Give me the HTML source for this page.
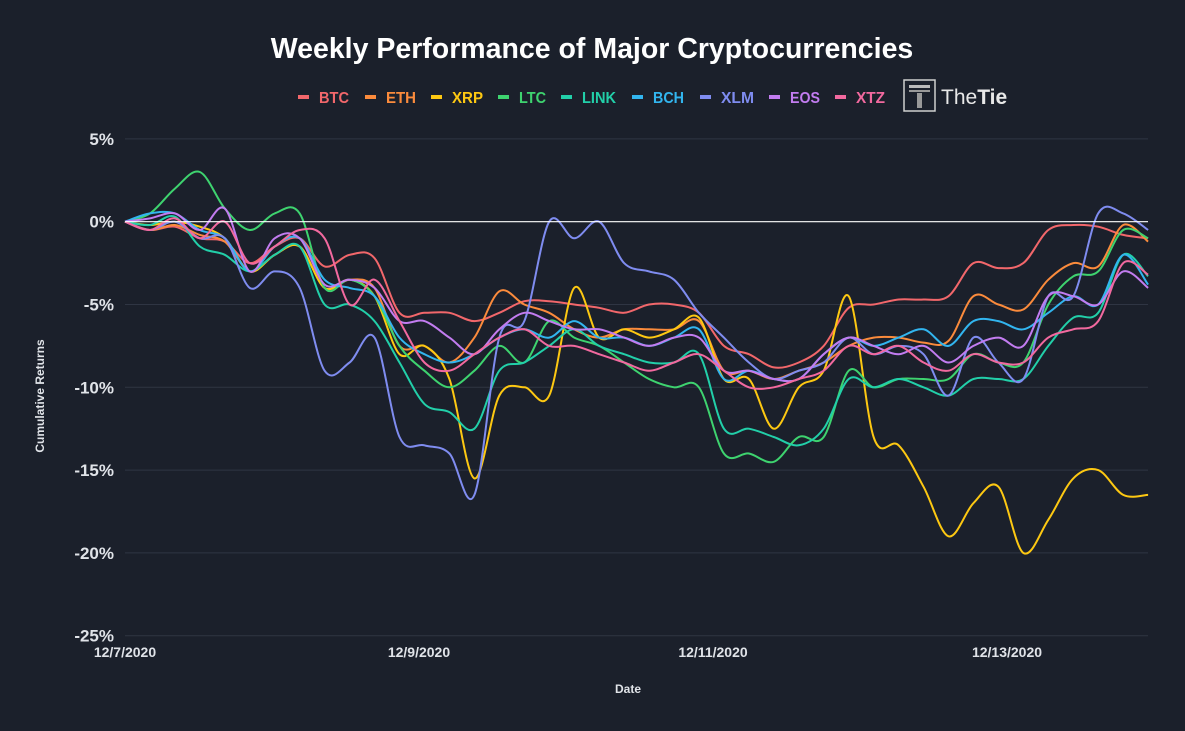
<!DOCTYPE html>
<html><head><meta charset="utf-8"><style>
html,body{margin:0;padding:0;background:#1b202b;}
svg{display:block;font-family:"Liberation Sans",sans-serif;}
</style></head><body>
<svg id="chart" width="1185" height="731" viewBox="0 0 1185 731">
<rect width="1185" height="731" fill="#1b202b"/>
<text x="592" y="58" text-anchor="middle" font-size="28.5" font-weight="bold" fill="#ffffff">Weekly Performance of Major Cryptocurrencies</text>
<g id="legend"></g>
<g>
<rect x="904" y="80" width="31" height="31" fill="none" stroke="#d0d0d0" stroke-width="1.5"/>
<rect x="909" y="85" width="21" height="3" fill="#bbb"/><rect x="909" y="90" width="21" height="2" fill="#999"/>
<rect x="917" y="93" width="5" height="15" fill="#999"/>
<text x="941" y="104" font-size="21" fill="#e8e8e8">The<tspan font-weight="bold">Tie</tspan></text>
</g>
<g id="grid"></g><g id="series"></g><g id="axes"></g>
<text x="628" y="693" text-anchor="middle" font-size="12" font-weight="bold" fill="#e0e3e8">Date</text>
<text transform="translate(44,396) rotate(-90)" text-anchor="middle" font-size="12" font-weight="bold" fill="#e0e3e8">Cumulative Returns</text>
</svg>
<script>
const names=["BTC","ETH","XRP","LTC","LINK","BCH","XLM","EOS","XTZ"];
const colors=["#f2676b","#fb8b3c","#fdc812","#3ed36f","#22cfa9","#32b5ef","#7f8cf0","#c27cf0","#f2699f"];
const yTicks=[5,0,-5,-10,-15,-20,-25];
const xTickLabels=["12/7/2020","12/9/2020","12/11/2020","12/13/2020"];
const xTickDays=[0,2,4,6];
const btc=[0,-0.5,-0.3,-1,-1.2,-2.5,-1.5,-1,-2.7,-2,-2.2,-5.5,-5.5,-5.5,-6,-5.5,-4.8,-4.8,-5,-5.2,-5.5,-5,-5,-5.5,-7.5,-8,-8.8,-8.5,-7.5,-5.2,-5,-4.7,-4.7,-4.5,-2.5,-2.8,-2.5,-0.5,-0.2,-0.3,-0.8,-1];
const eth=[0,-0.5,-0.2,-0.8,-1.2,-3,-2,-1.5,-4,-3.5,-4,-7.5,-7.5,-8.5,-7,-4.2,-5,-5.5,-6.5,-7,-6.5,-6.5,-6.5,-6,-9,-9,-9.5,-9,-8.5,-7.5,-7,-7,-7.3,-7.2,-4.5,-5,-5.3,-3.5,-2.5,-2.7,-0.2,-1.2];
const xrp=[0,-0.2,0,-0.3,-1,-3,-2,-1.5,-4,-3.5,-4.5,-8,-7.5,-9.5,-15.5,-10.5,-10,-10.5,-4,-7,-6.5,-7,-6.5,-5.8,-9.5,-9.5,-12.5,-10,-9,-4.5,-13,-13.5,-16,-19,-17,-16,-20,-18,-15.5,-15,-16.5,-16.5];
const ltc=[0,0.5,2,3,0.8,-0.5,0.5,0.5,-4,-3.5,-4.5,-7.5,-9,-10,-9,-7.5,-8.5,-6,-7,-7.5,-8.5,-9.5,-10,-10,-14,-14,-14.5,-13,-13,-9,-10,-9.5,-9.5,-9.5,-8,-8.5,-8.5,-5,-3.3,-3,-0.5,-1];
const link=[0,-0.2,0.3,-1.5,-2,-3,-2,-1.5,-5,-5,-6,-8.5,-11,-11.5,-12.5,-9,-8.5,-7.5,-6.5,-7.5,-8,-8.5,-8.5,-8,-12.5,-12.5,-13,-13.5,-12.5,-9.5,-10,-9.5,-10,-10.5,-9.5,-9.5,-9.5,-7.5,-5.8,-5.5,-2,-3.3];
const bch=[0,0.5,0.5,-0.5,-1,-3,-1.5,-1,-3.5,-4,-4.5,-7,-8,-8.5,-8,-7,-6.5,-7,-6,-7,-7,-7.5,-7,-6.5,-9.5,-9,-9.5,-9.5,-8,-7,-7.5,-7,-6.5,-7.5,-6,-6,-6.5,-5.5,-4.5,-5,-2,-3.8];
const xlm=[0,-0.5,0,-1,-1,-4,-3,-4,-9,-8.5,-7,-13,-13.5,-14,-16.5,-7,-6,0,-1,0,-2.5,-3,-3.5,-5.5,-7,-8.5,-9.5,-9,-8.5,-7,-8,-7.5,-8,-10.5,-7,-8.5,-9.5,-4.5,-4.5,0.5,0.5,-0.5];
const eos=[0,0.2,0.5,-0.5,0.8,-3,-1,-1,-3.8,-3.5,-4,-6,-6,-7,-8,-6.5,-5.5,-6,-6.5,-6.5,-7,-7.5,-7,-7,-9,-9,-9.5,-9.5,-8,-7,-7.5,-8,-7.5,-8.5,-7.5,-7,-7.5,-4.5,-4.5,-5,-3,-4];
const xtz=[0,-0.5,0.2,-1,0,-2.5,-1.5,-0.5,-1,-5,-3.5,-6,-8.5,-9,-8,-7,-6.5,-7.5,-7.5,-8,-8.5,-9,-8.5,-8,-9,-10,-10,-9.5,-9,-7.5,-8,-7.5,-8.5,-9,-8,-8.5,-8.5,-7,-6.5,-6,-2.5,-3.2];
const seriesData=[btc,eth,xrp,ltc,link,bch,xlm,eos,xtz];
const totalDays=6.96;
const NS="http://www.w3.org/2000/svg";
const X0=125,X1=1148,DAY=147,Y0=221.7,PER=16.56;
const xScale=d=>X0+d*DAY;
const yScale=v=>Y0-v*PER;
function mk(tag,attrs,parent){const e=document.createElementNS(NS,tag);for(const k in attrs)e.setAttribute(k,attrs[k]);parent.appendChild(e);return e;}
const grid=document.getElementById('grid'),axes=document.getElementById('axes'),ser=document.getElementById('series'),leg=document.getElementById('legend');
yTicks.forEach(t=>{
  const y=yScale(t);
  const l=mk('line',{x1:X0,x2:X1,y1:y,y2:y,stroke:t===0?'#ffffff':'#2f3543','stroke-width':t===0?1.2:1},t===0?axes:grid);
  
  
  const tx=mk('text',{x:114,y:y+6,'text-anchor':'end','font-size':17,'font-weight':'bold',fill:'#e0e3e8'},axes);
  tx.textContent=t+'%';
  
  
});
xTickDays.forEach((d,i)=>{
  const tx=mk('text',{x:xScale(d),y:657,'text-anchor':'middle','font-size':14,'font-weight':'bold',fill:'#e0e3e8'},axes);
  tx.textContent=xTickLabels[i];
  
  
});
function smooth(pts){let d='M'+pts[0][0]+','+pts[0][1];
  for(let i=0;i<pts.length-1;i++){const p0=pts[Math.max(0,i-1)],p1=pts[i],p2=pts[i+1],p3=pts[Math.min(pts.length-1,i+2)];
  const c1x=p1[0]+(p2[0]-p0[0])/6,c1y=p1[1]+(p2[1]-p0[1])/6,c2x=p2[0]-(p3[0]-p1[0])/6,c2y=p2[1]-(p3[1]-p1[1])/6;
  d+=` C${c1x.toFixed(1)},${c1y.toFixed(1)} ${c2x.toFixed(1)},${c2y.toFixed(1)} ${p2[0].toFixed(1)},${p2[1].toFixed(1)}`;}
  return d;}
seriesData.forEach((arr,s)=>{
  const n=arr.length;
  const pts=arr.map((v,i)=>[xScale(i*totalDays/(n-1)),yScale(v)]);
  const p=mk('path',{d:smooth(pts),fill:'none',stroke:colors[s],'stroke-width':2},ser);
  
  
});
const legX=[298,365,431,498,561,632,700,769,835];
const legW=[30,30,31,27,34,31,33,30,29];
names.forEach((nm,i)=>{
  const g=mk('g',{},leg);
  
  
  mk('rect',{x:legX[i],y:95,width:11,height:4,fill:colors[i]},g);
  const t=mk('text',{x:legX[i]+21,y:103,'font-size':16,'font-weight':'bold',fill:colors[i],textLength:legW[i],lengthAdjust:'spacingAndGlyphs'},g);
  t.textContent=nm;
});
</script>
</body></html>
